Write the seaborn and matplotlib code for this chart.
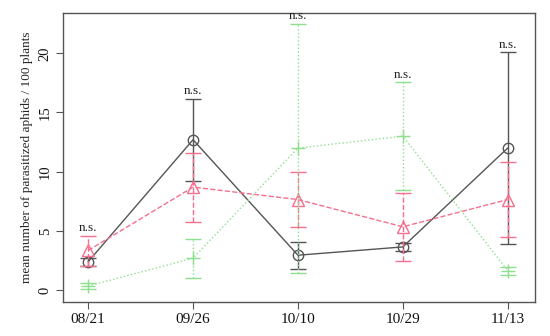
import matplotlib
matplotlib.use("Agg")
import matplotlib.pyplot as plt
import seaborn as sns
import pandas as pd
import numpy as np

dates = ["08/21", "09/26", "10/10", "10/29", "11/13"]

black_mean = [2.4, 12.7, 2.95, 3.65, 12.0]
black_lo = [2.0, 9.25, 1.8, 3.3, 3.9]
black_hi = [2.7, 16.15, 4.1, 3.95, 20.1]

pink_mean = [3.35, 8.7, 7.65, 5.35, 7.65]
pink_lo = [2.0, 5.75, 5.3, 2.45, 4.5]
pink_hi = [4.6, 11.6, 10.0, 8.2, 10.8]

green_mean = [0.35, 2.7, 12.0, 13.0, 1.65]
green_lo = [0.1, 1.0, 1.45, 8.45, 1.3]
green_hi = [0.6, 4.3, 22.5, 17.55, 1.95]

ns_label = "n.s."

sns.set_theme(style="ticks")
plt.rcParams["font.family"] = ["Liberation Serif", "DejaVu Serif"]

fig = plt.figure(figsize=(5.5, 3.36), dpi=100)
ax = fig.add_axes([0.1145, 0.1012, 0.8582, 0.8601])

xs = np.arange(1, len(dates) + 1)
series = [
    ("black", black_mean, black_lo, black_hi, "#555555", "-", "o", 7.5),
    ("pink", pink_mean, pink_lo, pink_hi, "#F4708C", "--", "^", 9),
    ("green", green_mean, green_lo, green_hi, "#8EE08E", ":", "+", 10.5),
]

for name, m, lo, hi, col, ls, mk, ms in series:
    df = pd.DataFrame({"x": xs, "y": m})
    sns.lineplot(data=df, x="x", y="y", ax=ax, color=col, linestyle=ls,
                 linewidth=1.0, marker=mk, markersize=ms,
                 markerfacecolor="none", markeredgecolor=col,
                 markeredgewidth=1.0)
    m = np.array(m); lo = np.array(lo); hi = np.array(hi)
    eb = ax.errorbar(xs, m, yerr=[m - lo, hi - m], fmt="none", ecolor=col,
                     elinewidth=1.0, capsize=5.5, capthick=1.0)
    for c in eb[2]:
        c.set_linestyle(ls)

tops = np.max([black_hi, pink_hi, green_hi], axis=0)
for x, t in zip(xs, tops):
    ax.annotate(ns_label, (x, t), xytext=(0, 1), textcoords="offset points",
                ha="center", va="bottom", fontsize=9.5, color="#222222")

ax.set_xlim(0.76, 5.26)
ax.set_ylim(-1.0, 23.4)
ax.set_xticks(xs)
ax.set_xticklabels(dates, fontsize=11)
ax.set_yticks([0, 5, 10, 15, 20])
ax.set_yticklabels(["0", "5", "10", "15", "20"], fontsize=10.5, rotation=90,
                   va="center")
ax.set_xlabel("")
ax.set_ylabel("mean number of parasitized aphids / 100 plants", fontsize=9.5)
for s in ax.spines.values():
    s.set_color("#555555")
    s.set_linewidth(1.0)
ax.tick_params(axis="both", direction="out", length=5, width=0.8,
               color="#555555", labelcolor="#111111", pad=3)

fig.savefig("out.png", dpi=100)
